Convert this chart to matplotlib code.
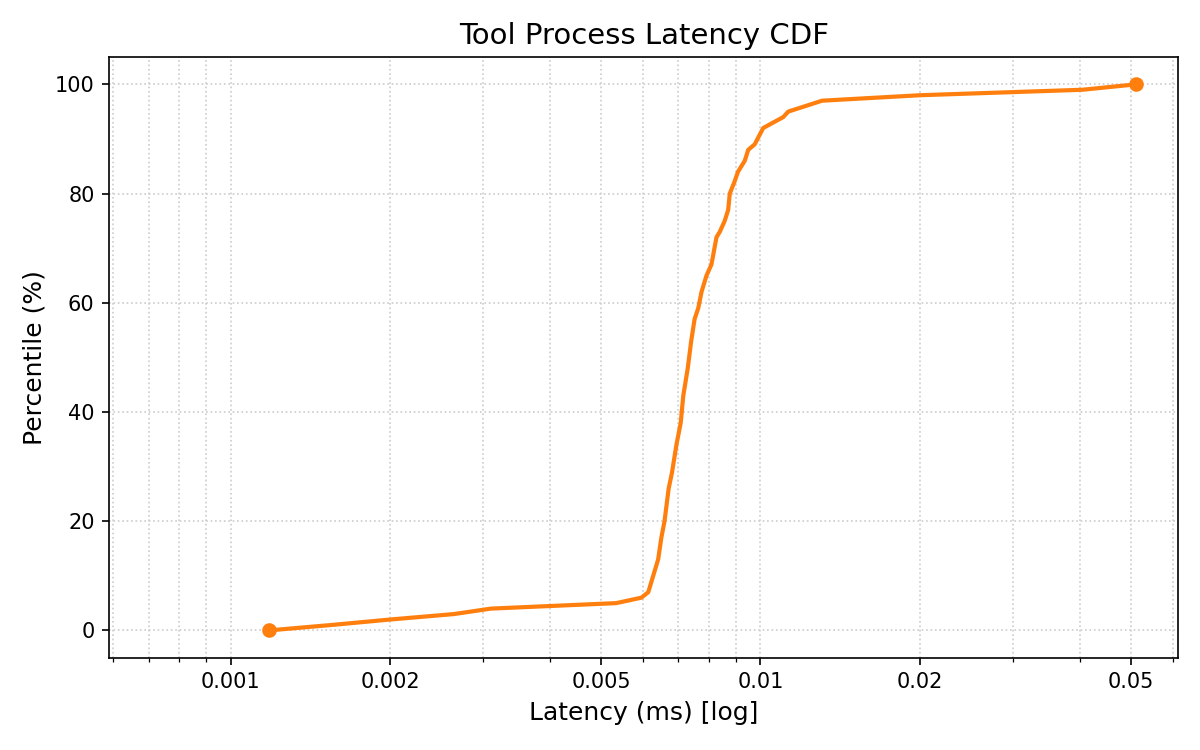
import matplotlib
matplotlib.use("Agg")
import matplotlib.pyplot as plt
from matplotlib.ticker import LogLocator, FuncFormatter

# latency (ms) at each percentile
latency_ms = [0.00118, 0.00155, 0.00200, 0.00264, 0.00310, 0.00534, 0.00596,
              0.00614, 0.00641, 0.00650, 0.00659, 0.00671, 0.00681, 0.00694,
              0.00707, 0.00715, 0.00729, 0.00740, 0.00751, 0.00763, 0.00774,
              0.00791, 0.00808, 0.00826, 0.00838, 0.00856, 0.00869, 0.00875,
              0.00892, 0.00907, 0.00934, 0.00948, 0.00975, 0.01012, 0.01104,
              0.01128, 0.01307, 0.02000, 0.04050, 0.05123]
percentile = [0, 1, 2, 3, 4, 5, 6, 7, 13, 17, 20, 26, 29, 34, 38, 43, 48, 53,
              57, 59, 62, 65, 67, 72, 73, 75, 77, 80, 82, 84, 86, 88, 89, 92,
              94, 95, 97, 98, 99, 100]

fig, ax = plt.subplots(figsize=(8, 5), dpi=150)
ax.plot(latency_ms, percentile, color='#ff7f0e', lw=2,
        marker='o', markersize=6, markevery=[0, -1])

ax.set_xscale('log')
ax.set_xlim(min(latency_ms) / 2, max(latency_ms) * 1.2)
ax.xaxis.set_major_locator(LogLocator(base=10, subs=(1.0, 2.0, 5.0)))
ax.xaxis.set_minor_locator(LogLocator(base=10, subs=(3.0, 4.0, 6.0, 7.0, 8.0, 9.0)))
ax.xaxis.set_major_formatter(FuncFormatter(lambda v, _: f'{v:g}'))

ax.grid(True, which='both', linestyle=':', color='0.8', linewidth=0.8)
ax.set_title('Tool Process Latency CDF', fontsize=14)
ax.set_xlabel('Latency (ms) [log]', fontsize=12)
ax.set_ylabel('Percentile (%)', fontsize=12)

fig.subplots_adjust(left=0.091, right=0.982, top=0.924, bottom=0.123)
fig.savefig('out.png', dpi=150)
